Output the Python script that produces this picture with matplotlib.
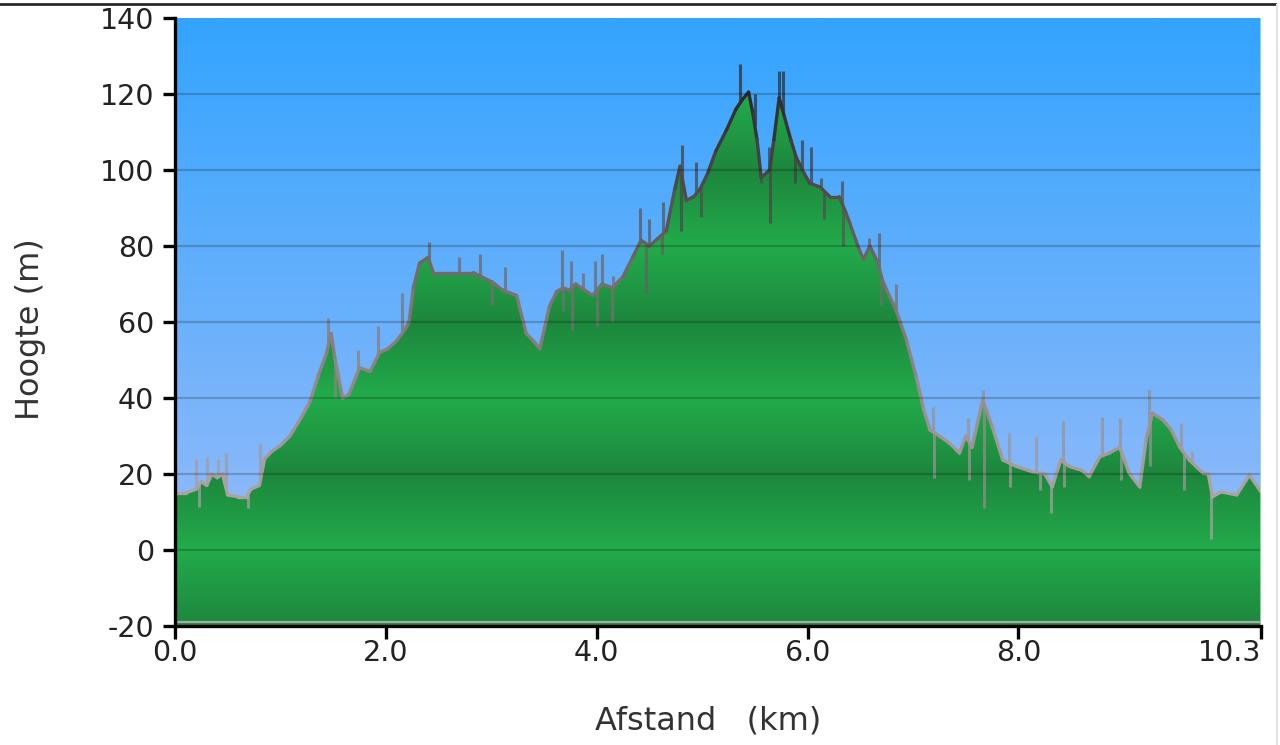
import numpy as np
import matplotlib
matplotlib.use("Agg")
import matplotlib.pyplot as plt
from matplotlib.colors import LinearSegmentedColormap, to_rgb
from matplotlib.collections import LineCollection
from matplotlib.lines import Line2D

plt.rcParams["axes.unicode_minus"] = False

# ---------------- data ----------------
dist_km = [0.00, 0.10, 0.20, 0.25, 0.30, 0.35, 0.40, 0.45, 0.50, 0.60, 0.68, 0.72,
           0.80, 0.85, 0.92, 1.00, 1.09, 1.20, 1.28, 1.36, 1.44, 1.48, 1.52, 1.59,
           1.65, 1.75, 1.85, 1.94, 2.02, 2.10, 2.18, 2.22, 2.26, 2.32, 2.40, 2.45,
           2.55, 2.70, 2.83, 2.90, 3.01, 3.10, 3.14, 3.24, 3.33, 3.40, 3.46, 3.55,
           3.62, 3.68, 3.74, 3.80, 3.88, 3.96, 4.05, 4.15, 4.25, 4.34, 4.42, 4.50,
           4.58, 4.66, 4.74, 4.79, 4.85, 4.92, 4.98, 5.05, 5.13, 5.23, 5.32, 5.38,
           5.44, 5.48, 5.52, 5.56, 5.64, 5.68, 5.73, 5.78, 5.84, 5.89, 5.95, 6.02,
           6.12, 6.21, 6.30, 6.36, 6.40, 6.49, 6.53, 6.59, 6.66, 6.71, 6.75, 6.84,
           6.94, 7.03, 7.10, 7.16, 7.25, 7.35, 7.44, 7.50, 7.56, 7.66, 7.75, 7.85,
           7.98, 8.13, 8.25, 8.32, 8.40, 8.48, 8.60, 8.67, 8.77, 8.86, 8.96, 9.05,
           9.15, 9.21, 9.27, 9.37, 9.45, 9.53, 9.62, 9.75, 9.80, 9.84, 9.92, 10.07,
           10.19, 10.30]
elev_m = [15, 15, 16, 18, 17, 20, 19, 20, 14.5, 14, 14, 16,
          17, 24, 26, 27.5, 30, 35, 39, 46, 52, 57, 50, 40,
          41, 48, 47, 52, 53, 55, 58, 60, 69, 75.5, 77, 73,
          73, 73, 73, 72, 70.5, 68.5, 68, 67, 57, 55, 53, 64,
          68, 69, 68.4, 70, 68.5, 67, 70, 69, 72, 77, 81.5, 80,
          82, 84, 95, 101, 92, 93, 95, 99, 105, 110.5, 116, 118.5,
          120.5, 115, 108, 98, 100, 108, 119, 114, 108, 103.5, 100, 96.5,
          95.5, 93, 93, 89, 86, 79, 76.5, 80, 76, 71, 68.4, 63,
          55, 45.5, 37, 31.6, 30, 28, 25.5, 30, 27, 39.5, 32.5, 23.7,
          22, 20.6, 20, 16.6, 23.7, 22, 21, 19.3, 24.5, 25.5, 27, 20.2,
          16.6, 29, 36, 34.2, 31.6, 27, 23.7, 20.2, 20, 14, 15.3, 14.5,
          19.7, 15.3]

# GPS spikes: position (km) and tip elevation (m)
spike_km = [0.20, 0.23, 0.30, 0.41, 0.48, 0.69, 0.81, 1.45, 1.52, 1.74, 1.93, 2.15,
            2.41, 2.69, 2.89, 3.01, 3.13, 3.67, 3.68, 3.76, 3.77, 3.87, 3.98, 4.00,
            4.05, 4.14, 4.15, 4.41, 4.47, 4.50, 4.62, 4.63, 4.80, 4.81, 4.94, 4.99,
            5.36, 5.50, 5.56, 5.63, 5.64, 5.73, 5.77, 5.88, 5.95, 6.03, 6.13, 6.16,
            6.33, 6.34, 6.58, 6.68, 6.70, 6.84, 7.19, 7.20, 7.52, 7.53, 7.66, 7.67,
            7.91, 7.92, 8.17, 8.20, 8.31, 8.42, 8.43, 8.79, 8.96, 8.97, 9.24, 9.25,
            9.54, 9.57, 9.65, 9.83]
spike_m = [24, 11.3, 24.5, 24, 25.5, 11, 28, 61, 40, 52.6, 59, 67.6,
           81, 77, 78, 64.5, 74.5, 79, 63, 76, 58, 73, 76, 59,
           78, 60, 72, 90, 67.6, 87, 78, 91.5, 84, 106.5, 102, 87.7,
           128, 120, 96.5, 106, 86, 126, 126, 96.5, 108, 106, 98, 87,
           97, 80, 82, 83.5, 64.5, 70, 37.6, 19, 34.7, 18.4, 42, 11,
           30.8, 16.6, 29.7, 15.8, 9.7, 34, 16.6, 35, 34.7, 18.4, 42, 22,
           33.4, 15.8, 26, 3]

x_ticks = [0.0, 2.0, 4.0, 6.0, 8.0, 10.3]
x_tick_labels = ["0.0", "2.0", "4.0", "6.0", "8.0", "10.3"]
y_ticks = [-20, 0, 20, 40, 60, 80, 100, 120, 140]
x_label = "Afstand   (km)"
y_label = "Hoogte (m)"

# ---------------- figure ----------------
W, H = 1280, 745
fig = plt.figure(figsize=(W / 100, H / 100), dpi=100)
fig.patch.set_facecolor("white")
L, R, T, B = 175, 1261, 18, 626
ax = fig.add_axes([L / W, 1 - B / H, (R - L) / W, (B - T) / H])

xmin, xmax = 0.0, 10.3
ymin, ymax = -20, 140
ax.set_xlim(xmin, xmax)
ax.set_ylim(ymin, ymax)

# background blue gradient
yy = np.linspace(ymin, ymax, 400)
top_c = np.array(to_rgb("#33a4ff"))
bot_c = np.array(to_rgb("#a2bef8"))
t = (yy - ymin) / (ymax - ymin)
bg = bot_c[None, :] * (1 - t[:, None]) + top_c[None, :] * t[:, None]
bg = np.repeat(bg[:, None, :], 2, axis=1)
ax.imshow(bg, extent=[xmin, xmax, ymin, ymax], origin="lower", aspect="auto",
          zorder=0, interpolation="bilinear")

# green fill with banded gradient (dark at 20, 60, 100..., light at 0, 40, 80...)
dark = np.array(to_rgb("#1d873d"))
light = np.array(to_rgb("#23ab4b"))
phase = np.abs(((yy - 20) / 40.0) % 1.0 - 0.5) * 2  # 1 at 20+40k, 0 at 40k
gimg = light[None, :] * (1 - phase[:, None]) + dark[None, :] * phase[:, None]
gimg = np.repeat(gimg[:, None, :], 2, axis=1)
poly = ax.fill_between(dist_km, elev_m, ymin, facecolor="none", edgecolor="none", zorder=1)
im = ax.imshow(gimg, extent=[xmin, xmax, ymin, ymax], origin="lower", aspect="auto",
               zorder=1, interpolation="bilinear")
im.set_clip_path(poly.get_paths()[0], transform=ax.transData)

# colour by elevation for outline / spikes
line_cmap = LinearSegmentedColormap.from_list("ln", ["#b0a8a8", "#7e7676", "#2a2a2a"])
def lc(e):
    return line_cmap(np.clip((e - 10) / 110.0, 0, 1))

# spikes
base = np.interp(spike_km, dist_km, elev_m)
segs = [[(x, b), (x, s)] for x, b, s in zip(spike_km, base, spike_m)]
cols = [lc(max(b, s)) for b, s in zip(base, spike_m)]
ax.add_collection(LineCollection(segs, colors=cols, linewidths=2.2, alpha=0.7, zorder=3))

# outline
pts = np.column_stack([dist_km, elev_m])
osegs = np.stack([pts[:-1], pts[1:]], axis=1)
mid = (np.array(elev_m[:-1]) + np.array(elev_m[1:])) / 2
ax.add_collection(LineCollection(osegs, colors=[lc(m) for m in mid], linewidths=2.4,
                                 zorder=4, capstyle="round", joinstyle="round"))

# gridlines
for yv in y_ticks[1:-1]:
    ax.axhline(yv, color="black", alpha=0.2, lw=1.6, zorder=5)
ax.axvline(xmax, color="#a6e0a6", lw=1.2, zorder=5)
ax.axhline(-18.9, color="#a8a8a8", lw=1.6, zorder=5)

# axes styling
for s in ["top", "right"]:
    ax.spines[s].set_visible(False)
for s in ["left", "bottom"]:
    ax.spines[s].set_linewidth(2.4)
    ax.spines[s].set_color("black")
    ax.spines[s].set_zorder(6)
ax.set_xticks(x_ticks)
ax.set_xticklabels(x_tick_labels)
ax.set_yticks(y_ticks)
ax.tick_params(axis="both", direction="out", length=9, width=2.4, color="black",
               labelsize=20.5, labelcolor="#222222")
ax.tick_params(axis="y", pad=6)
ax.tick_params(axis="x", pad=0.5)
ax.get_xticklabels()[-1].set_horizontalalignment("right")

ax.set_xlabel(x_label, fontsize=23, color="#333333")
ax.xaxis.set_label_coords((708 - L) / (R - L), -(721 - B) / (B - T), transform=ax.transAxes)
ax.xaxis.label.set_verticalalignment("center")
ax.set_ylabel(y_label, fontsize=23, color="#333333")
ax.yaxis.set_label_coords(-(L - 31) / (R - L), (B - 329) / (B - T), transform=ax.transAxes)
ax.yaxis.label.set_verticalalignment("center")

# top border line and faint right frame
fig.add_artist(Line2D([0, 1275 / W], [1 - 3.5 / H, 1 - 3.5 / H], color="#2a2a2a", lw=2.0))
fig.add_artist(Line2D([1277 / W, 1277 / W], [0, 1 - 5 / H], color="#e2e2e2", lw=1.5))

fig.savefig("out.png", dpi=100, facecolor="white")
